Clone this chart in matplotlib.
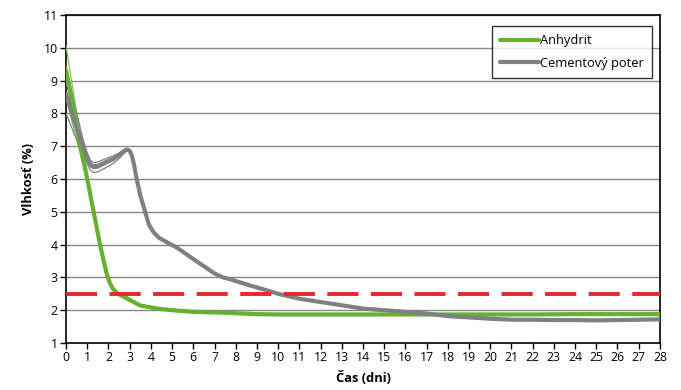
import numpy as np
import matplotlib
matplotlib.use('Agg')
import matplotlib.pyplot as plt

# casy a hodnoty (odcitane z grafu)
t_gray = [0, 0.4, 0.8, 1.0, 1.15, 1.3, 1.5, 1.8, 2.2, 2.5, 2.7, 2.86, 3.0, 3.1, 3.2,
          3.33, 3.5, 3.73, 3.9, 4.12, 4.4, 4.9, 5.2, 6.0, 7.0, 7.4, 7.7, 8.7, 9.5,
          10, 11, 12, 13, 14, 15, 16, 17, 18, 19, 20, 21, 22, 23, 24, 25, 26, 27, 28]
v_gray = [8.6, 7.75, 7.0, 6.62, 6.43, 6.36, 6.38, 6.48, 6.6, 6.72, 6.84, 6.9, 6.86,
          6.72, 6.45, 6.0, 5.5, 5.0, 4.62, 4.38, 4.2, 4.02, 3.92, 3.56, 3.12, 3.0,
          2.95, 2.75, 2.6, 2.5, 2.35, 2.25, 2.15, 2.05, 2.0, 1.95, 1.9, 1.82, 1.78,
          1.74, 1.71, 1.71, 1.7, 1.7, 1.69, 1.7, 1.71, 1.72]

t_gray_thin = [0, 0.4, 0.8, 1.0, 1.15, 1.3, 1.5, 1.8, 2.2, 2.5, 2.7, 2.86, 3.0, 3.1,
               3.2, 3.33]
v_gray_thin = [
    [9.45, 8.3, 7.2, 6.8, 6.58, 6.5, 6.52, 6.6, 6.7, 6.8, 6.88, 6.92, 6.87, 6.72,
     6.45, 6.0],
    [8.95, 8.0, 7.1, 6.72, 6.5, 6.43, 6.45, 6.54, 6.65, 6.76, 6.86, 6.91, 6.86,
     6.72, 6.45, 6.0],
    [8.0, 7.35, 6.75, 6.45, 6.27, 6.2, 6.22, 6.32, 6.47, 6.62, 6.76, 6.86, 6.84,
     6.72, 6.45, 6.0],
]

t_green = [0, 0.5, 1.0, 1.3, 1.6, 1.9, 2.05, 2.2, 2.4, 2.6, 2.9, 3.5, 4.4, 5, 6, 7.6,
           9, 10, 12, 14, 16, 18, 20, 22, 24, 26, 28]
v_green = [9.3, 7.6, 6.0, 5.0, 4.0, 3.15, 2.85, 2.66, 2.52, 2.45, 2.35, 2.14, 2.04,
           2.0, 1.95, 1.92, 1.88, 1.87, 1.87, 1.87, 1.87, 1.87, 1.87, 1.87, 1.88,
           1.88, 1.88]

t_green_thin = [0, 0.5, 1.0, 1.3, 1.6, 1.9, 2.05, 2.2, 2.4, 2.6, 2.9, 3.5, 4.4, 5]
v_green_thin = [
    [10.05, 8.0, 6.1, 5.05, 4.05, 3.2, 2.9, 2.71, 2.57, 2.5, 2.4, 2.18, 2.07, 2.02],
    [8.45, 7.2, 5.9, 4.95, 3.95, 3.1, 2.8, 2.61, 2.47, 2.41, 2.31, 2.11, 2.01, 1.98],
]

limit = 2.5

green = '#66b032'
gray = '#808080'
red = '#e8262d'

plt.rcParams['font.family'] = ['Open Sans', 'DejaVu Sans']

fig = plt.figure(figsize=(6.81, 3.90), dpi=100)
ax = fig.add_axes([0.097, 0.1205, 0.872, 0.841])

for y in range(2, 12):
    ax.axhline(y, color='#878787', lw=1, zorder=1)

for v in v_green_thin:
    ax.plot(t_green_thin, v, color='#7cc44a', lw=0.9, zorder=3)
ax.plot(t_green, v_green, color=green, lw=3, zorder=4, label='Anhydrit',
        solid_joinstyle='round', solid_capstyle='round')

for v in v_gray_thin:
    ax.plot(t_gray_thin, v, color=gray, lw=0.9, zorder=3)
ax.plot(t_gray, v_gray, color=gray, lw=3, zorder=4, label='Cementový poter',
        solid_joinstyle='round', solid_capstyle='round')

ax.plot([0, 28], [limit, limit], color=red, lw=2.8, dashes=(8, 3.2), zorder=5)

ax.set_xlim(0, 28)
ax.set_ylim(1, 11)
ax.set_xticks(range(0, 29))
ax.set_yticks(range(1, 12))
ax.tick_params(direction='out', length=4, width=1, labelsize=8.8, pad=2)
for s in ax.spines.values():
    s.set_color('black')
    s.set_linewidth(1.2)

ax.set_xlabel('Čas (dni)', fontsize=9.3, fontweight='bold', labelpad=5)
ax.set_ylabel('Vlhkosť (%)', fontsize=9.3, fontweight='bold', labelpad=6)

leg = ax.legend(loc='upper right', bbox_to_anchor=(0.9865, 0.965), fontsize=9.3,
                frameon=True, fancybox=False, handlelength=3.0, handletextpad=0.1,
                borderpad=0.6, labelspacing=0.75, borderaxespad=0)
leg.get_frame().set_edgecolor('black')
leg.get_frame().set_linewidth(1)

fig.savefig('out.png', dpi=100)
